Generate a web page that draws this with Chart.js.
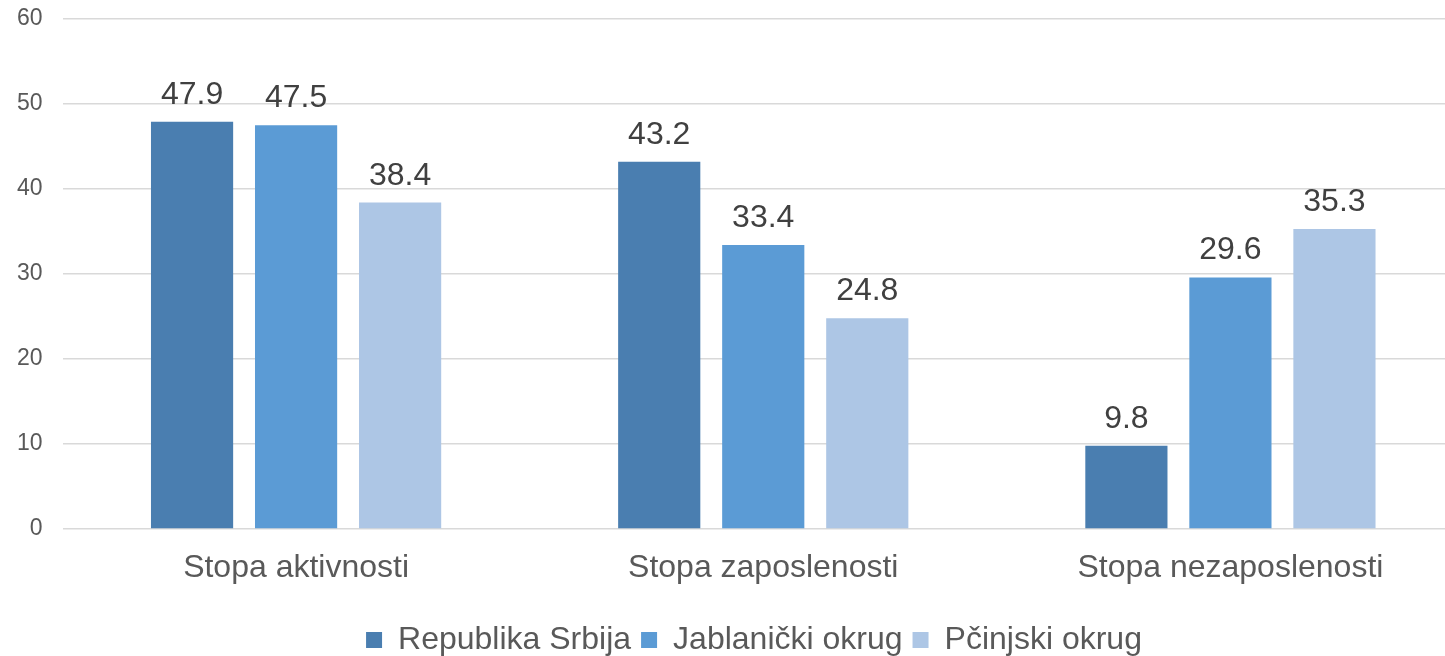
<!DOCTYPE html>
<html lang="sr">
<head>
  <meta charset="UTF-8">
  <title>Stope aktivnosti, zaposlenosti i nezaposlenosti</title>
  <script src="https://cdn.jsdelivr.net/npm/chart.js"></script>
  <style>
    html, body {
      margin: 0;
      padding: 0;
      background: #fff;
      overflow: hidden;
    }
    #wrap {
      width: 1464px;
      height: 656px;
    }
  </style>
</head>
<body>

<div id="wrap">
  <canvas id="rateChart" width="1464" height="656" role="img" aria-label="Stope aktivnosti, zaposlenosti i nezaposlenosti"></canvas>
</div>

<script>
  const categories = ['Stopa aktivnosti', 'Stopa zaposlenosti', 'Stopa nezaposlenosti'];
  const seriesNames = ['Republika Srbija', 'Jablanički okrug', 'Pčinjski okrug'];
  const srbija = [47.9, 43.2, 9.8];
  const jablanicki = [47.5, 33.4, 29.6];
  const pcinjski = [38.4, 24.8, 35.3];
  const colors = ['#4a7eb0', '#5b9bd5', '#adc6e5'];

  const FONT = "'Liberation Sans', Arial, sans-serif";

  // value labels above each bar
  const barLabels = {
    id: 'barLabels',
    afterDatasetsDraw(chart) {
      const ctx = chart.ctx;
      ctx.save();
      ctx.font = '32px ' + FONT;
      ctx.fillStyle = '#404040';
      ctx.textAlign = 'center';
      ctx.textBaseline = 'alphabetic';
      chart.data.datasets.forEach((ds, i) => {
        chart.getDatasetMeta(i).data.forEach((bar, j) => {
          ctx.fillText(ds.data[j].toFixed(1), bar.x, bar.y - 18);
        });
      });
      ctx.restore();
    }
  };

  // legend sits a bit right of and below where chart.js puts it
  const legendNudge = {
    id: 'legendNudge',
    afterLayout(chart) {
      const lg = chart.legend;
      lg.left += 22; lg.right += 22;
      lg.top += 10; lg.bottom += 10;
    }
  };

  new Chart(document.getElementById('rateChart'), {
    type: 'bar',
    data: {
      labels: categories,
      datasets: [srbija, jablanicki, pcinjski].map((d, i) => ({
        label: seriesNames[i],
        data: d,
        backgroundColor: colors[i],
        categoryPercentage: 0.668,
        barPercentage: 0.79
      }))
    },
    options: {
      responsive: false,
      animation: false,
      layout: {
        padding: 0
      },
      scales: {
        x: {
          grid: { display: false },
          border: { display: false },
          ticks: {
            color: '#595959',
            font: { family: FONT, size: 32 },
            padding: 12
          },
          afterFit: (scale) => { scale.height = 75; }
        },
        y: {
          min: 0,
          max: 60,
          ticks: {
            stepSize: 10,
            color: '#595959',
            font: { family: FONT, size: 23 },
            padding: 20
          },
          grid: {
            color: '#d9d9d9',
            lineWidth: 1.5,
            drawTicks: false
          },
          border: { display: false },
          afterFit: (scale) => {
            scale.width = 62.5;
            scale.paddingTop = 19;
            scale.paddingBottom = 0;
          }
        }
      },
      plugins: {
        tooltip: { enabled: false },
        legend: {
          position: 'bottom',
          labels: {
            color: '#595959',
            font: { family: FONT, size: 32 },
            boxWidth: 16,
            boxHeight: 16,
            padding: 10
          }
        }
      }
    },
    plugins: [barLabels, legendNudge]
  });
</script>

</body>
</html>
